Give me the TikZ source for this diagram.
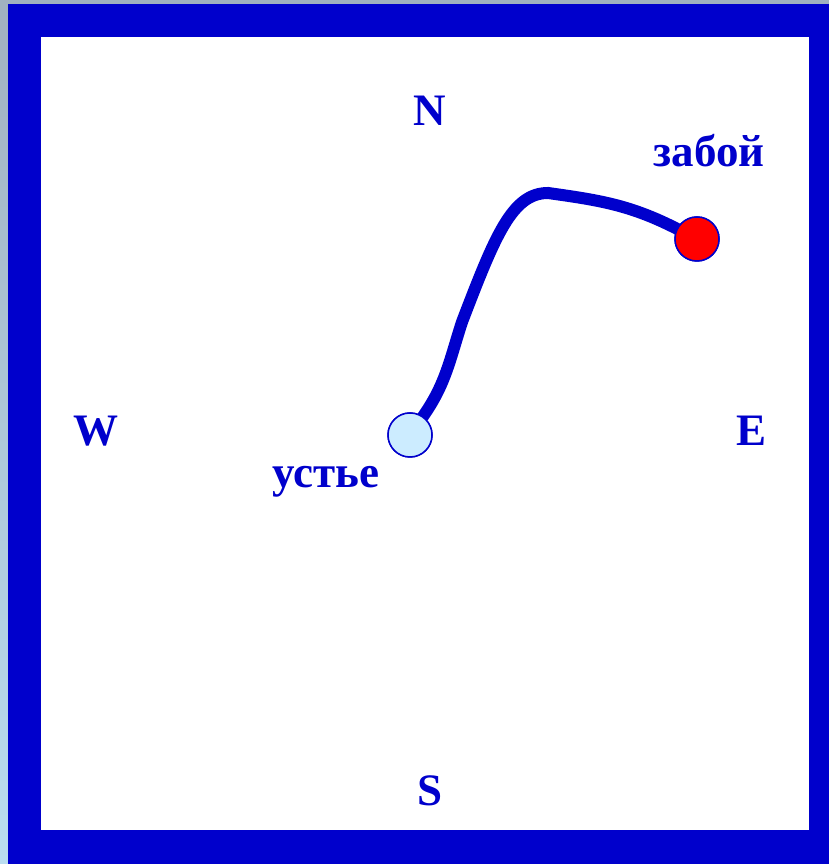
\documentclass[tikz,border=0pt]{standalone}
\usepackage{fontspec}
\setmainfont{Liberation Serif}
\usetikzlibrary{positioning}
\definecolor{frameblue}{RGB}{0,0,204}
\definecolor{paleblue}{RGB}{204,236,255}
\definecolor{edgetop}{RGB}{160,177,192}
\definecolor{edgebot}{RGB}{186,221,240}

\begin{document}
\begin{tikzpicture}
    [x=1pt, y=1pt,
    wire/.style={line width=12pt, frameblue, line cap=round},
    well/.style={circle, draw=frameblue, line width=1.5pt, minimum size=44pt, inner sep=0pt},
    lbl/.style={text=frameblue, anchor=base, inner sep=0pt, font=\fontsize{45}{45}\selectfont\bfseries}]
        \useasboundingbox (0,0) rectangle (829,864);
        %% frame
        \shade[top color=edgetop, bottom color=edgebot] (0,0) rectangle (829,864);
        \fill[frameblue] (8,0) rectangle (829,860);
        \fill[white] (41,34) rectangle (809,827);

        %% compass
        \node[lbl] (N) at (430,738) {N};
        \node[lbl] (S) at (430,58) {S};
        \node[lbl] (W) at (96,418) {W};
        \node[lbl] (E) at (751,418) {E};

        %% well path
        \node[well, fill=paleblue] (ust) at (410,429) {};
        \node[well, fill=red] (zab) at (697,625) {};
        \node[lbl] (ustlbl) at (326,376) {устье};
        \node[lbl] (zablbl) at (709,697) {забой};

        \coordinate (b1) at (462,542);
        \coordinate (b2) at (548,671);
        \draw[wire] (ust) to[out=55, in=-108] (b1)
            .. controls (495,628) and (512,671) .. (b2)
            to[out=-8, in=153] (zab);
        \node[well, fill=paleblue] at (ust) {};
        \node[well, fill=red] at (zab) {};
\end{tikzpicture}
\end{document}
